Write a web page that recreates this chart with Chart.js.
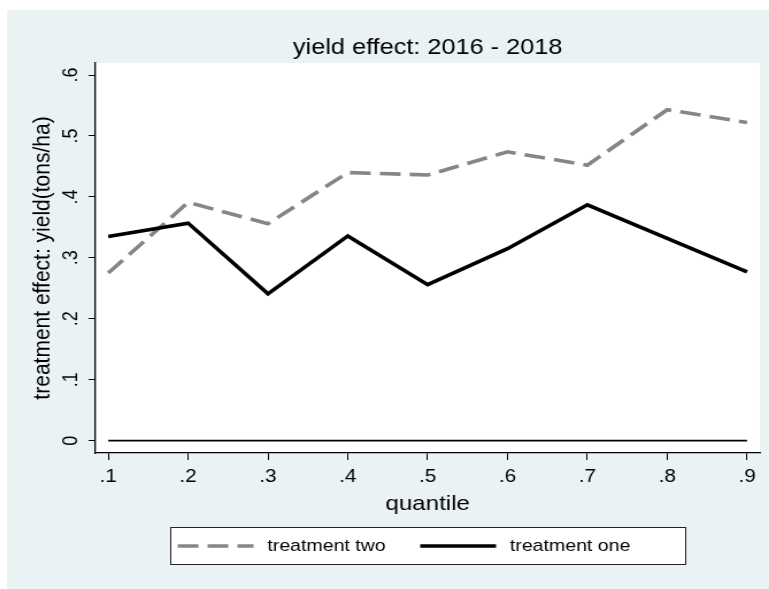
<!DOCTYPE html>
<html>
<head>
<meta charset="utf-8">
<script src="https://cdn.jsdelivr.net/npm/chart.js@4.4.1/dist/chart.umd.min.js"></script>
<style>
  html, body { margin: 0; padding: 0; background: #ffffff; }
  body { width: 769px; height: 589px; position: relative; overflow: hidden; }
  #graph { position: absolute; left: 7px; top: 10px; }
</style>
</head>
<body>
<!-- the graph is drawn at a narrower width and widened to the final frame -->
<canvas id="graph" width="663" height="579" style="width:762px;height:579px;"></canvas>
<script>
// quantiles on the x axis
const quantiles = [0.1, 0.2, 0.3, 0.4, 0.5, 0.6, 0.7, 0.8, 0.9];
const xTickLabels = ['.1', '.2', '.3', '.4', '.5', '.6', '.7', '.8', '.9'];

// treatment effects on yield (tons/ha)
const treatmentTwo = [0.275, 0.391, 0.356, 0.440, 0.436, 0.474, 0.452, 0.543, 0.522];
const treatmentOne = [0.335, 0.357, 0.241, 0.336, 0.256, 0.315, 0.387, 0.332, 0.277];
const zeroLine     = [0, 0, 0, 0, 0, 0, 0, 0, 0];

const yTickValues = [0, 0.1, 0.2, 0.3, 0.4, 0.5, 0.6];
const yTickLabels = ['0', '.1', '.2', '.3', '.4', '.5', '.6'];

const seriesNames = ['treatment two', 'treatment one'];

const FONT = "'Liberation Sans', Arial, Helvetica, sans-serif";
Chart.defaults.font.family = FONT;
Chart.defaults.color = '#000000';

const toPoints = (ys) => quantiles.map((q, i) => ({ x: q, y: ys[i] }));

// graph region, plot region and rotated y tick labels
const backdrop = {
  id: 'backdrop',
  beforeDraw(chart) {
    const { ctx, chartArea: a } = chart;
    ctx.save();
    ctx.fillStyle = '#eaf2f3';
    ctx.fillRect(0, 0, chart.width, chart.height);
    ctx.fillStyle = '#ffffff';
    ctx.fillRect(a.left, a.top, a.right - a.left, a.bottom - a.top);
    ctx.restore();
  },
  afterDraw(chart) {
    const { ctx } = chart;
    const y = chart.scales.y;
    ctx.save();
    ctx.fillStyle = '#000000';
    ctx.font = '18px ' + FONT;
    ctx.textAlign = 'center';
    ctx.textBaseline = 'middle';
    const lx = y.right - 21;
    yTickValues.forEach((v, i) => {
      const py = y.getPixelForValue(v);
      ctx.save();
      ctx.translate(lx, py);
      ctx.rotate(-Math.PI / 2);
      ctx.fillText(yTickLabels[i], 0, 0);
      ctx.restore();
    });
    ctx.restore();
  }
};

// boxed legend under the axis title
const boxedLegend = {
  id: 'boxedLegend',
  afterDraw(chart) {
    const { ctx, chartArea: a } = chart;
    const cx = (a.left + a.right) / 2;
    const boxW = 448, boxH = 37, boxTop = 517;
    const left = cx - boxW / 2;
    ctx.save();
    ctx.fillStyle = '#ffffff';
    ctx.fillRect(left, boxTop, boxW, boxH);
    ctx.strokeStyle = '#222222';
    ctx.lineWidth = 1;
    ctx.strokeRect(left + 0.5, boxTop + 0.5, boxW, boxH);
    const midY = boxTop + boxH / 2 + 0.5;
    const itemStarts = [6.5, 217.5];
    ctx.font = '17px ' + FONT;
    ctx.textBaseline = 'middle';
    ctx.textAlign = 'left';
    seriesNames.forEach((name, i) => {
      const ds = chart.data.datasets.find(d => d.label === name);
      const x0 = left + itemStarts[i];
      ctx.save();
      ctx.strokeStyle = ds.borderColor;
      ctx.lineWidth = ds.borderWidth;
      ctx.setLineDash(ds.borderDash || []);
      ctx.lineCap = 'butt';
      ctx.beginPath();
      ctx.moveTo(x0, midY);
      ctx.lineTo(x0 + 66, midY);
      ctx.stroke();
      ctx.restore();
      ctx.fillStyle = '#000000';
      ctx.fillText(name, x0 + 78, midY);
    });
    ctx.restore();
  }
};

new Chart(document.getElementById('graph'), {
  type: 'line',
  data: {
    datasets: [
      {
        label: 'zero',
        data: toPoints(zeroLine),
        borderColor: '#000000',
        borderWidth: 1.8,
        pointRadius: 0,
        order: 3
      },
      {
        label: seriesNames[0],
        data: toPoints(treatmentTwo),
        borderColor: '#868686',
        borderWidth: 3.6,
        borderDash: [18, 8],
        borderCapStyle: 'butt',
        pointRadius: 0,
        order: 2
      },
      {
        label: seriesNames[1],
        data: toPoints(treatmentOne),
        borderColor: '#000000',
        borderWidth: 3.6,
        pointRadius: 0,
        order: 1
      }
    ]
  },
  options: {
    responsive: false,
    animation: false,
    layout: { padding: { left: 19, right: 8, top: 0, bottom: 61 } },
    plugins: {
      legend: { display: false },
      tooltip: { enabled: false },
      title: {
        display: true,
        fullSize: false,
        text: 'yield effect: 2016 - 2018',
        color: '#000000',
        font: { size: 22, weight: 'normal' },
        padding: { top: 24.7, bottom: 1.9 }
      }
    },
    elements: { line: { tension: 0, borderJoinStyle: 'miter' } },
    scales: {
      x: {
        type: 'linear',
        position: 'bottom',
        min: 0.084,
        max: 0.916,
        afterBuildTicks: (s) => { s.ticks = quantiles.map(v => ({ value: v })); },
        afterFit: (s) => { s.height = 75; },
        ticks: {
          callback: (v, i) => xTickLabels[i],
          autoSkip: false,
          maxRotation: 0,
          padding: 6,
          color: '#000000',
          font: { size: 18 }
        },
        grid: { drawOnChartArea: false, drawTicks: true, tickLength: 7, color: '#000000', tickWidth: 1 },
        border: { display: true, color: '#000000', width: 1.3 },
        title: {
          display: true,
          text: 'quantile',
          color: '#000000',
          font: { size: 21 },
          padding: { top: 0, bottom: 11 }
        }
      },
      y: {
        type: 'linear',
        position: 'left',
        min: -0.0202,
        max: 0.6197,
        afterBuildTicks: (s) => { s.ticks = yTickValues.map(v => ({ value: v })); },
        afterFit: (s) => { s.width = 58; },
        ticks: { display: false },
        grid: { drawOnChartArea: false, drawTicks: true, tickLength: 6, color: '#000000', tickWidth: 1 },
        border: { display: true, color: '#000000', width: 1.3 },
        title: {
          display: true,
          text: 'treatment effect: yield(tons/ha)',
          color: '#000000',
          font: { size: 21 },
          padding: { top: 0, bottom: 0 }
        }
      }
    }
  },
  plugins: [backdrop, boxedLegend]
});
</script>
</body>
</html>
